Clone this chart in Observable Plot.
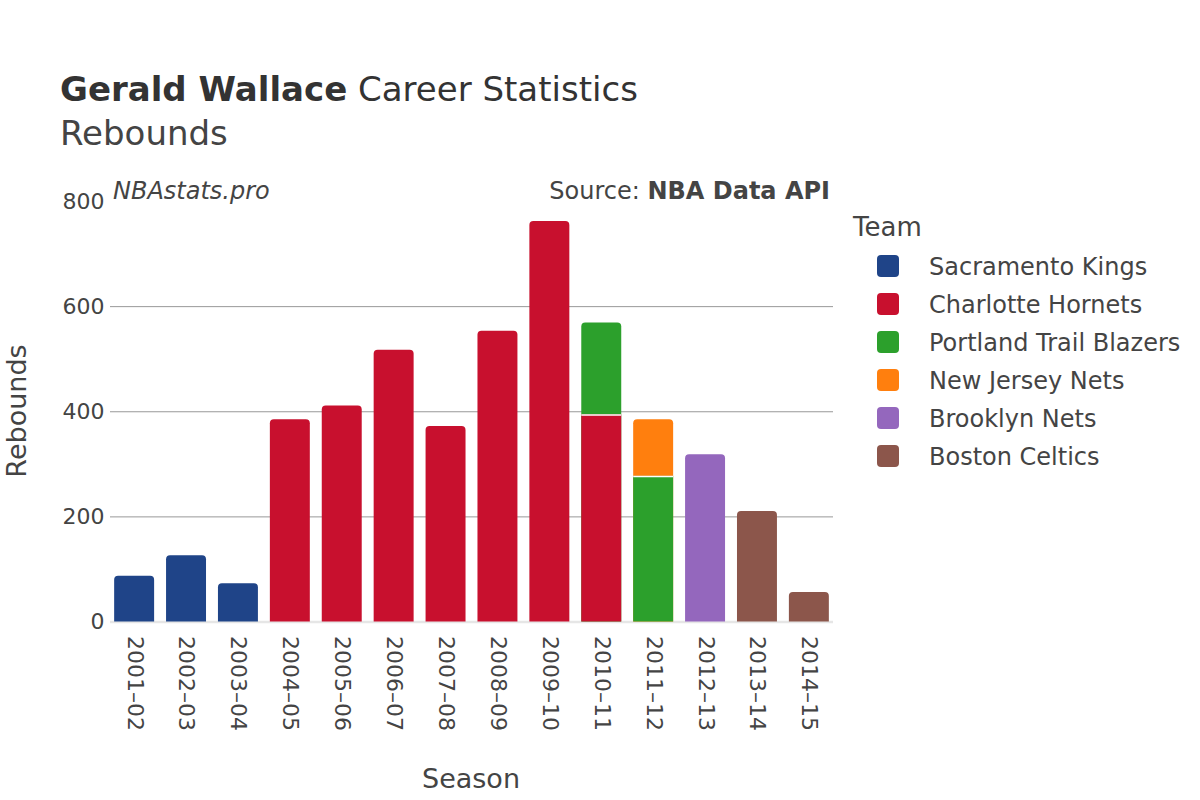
<!DOCTYPE html>
<html>
<head>
<meta charset="utf-8">
<script src="https://cdn.jsdelivr.net/npm/d3@7"></script>
<script src="https://cdn.jsdelivr.net/npm/@observablehq/plot@0.6"></script>
<style>
  html, body { margin: 0; padding: 0; background: #fff; }
  #chart { width: 1200px; height: 800px; }
  svg text { font-family: "DejaVu Sans", sans-serif; }
</style>
</head>
<body>
<div id="chart"></div>
<script>
// ---- data ----
const seasons = ["2001–02","2002–03","2003–04","2004–05","2005–06","2006–07","2007–08","2008–09","2009–10","2010–11","2011–12","2012–13","2013–14","2014–15"];
const teams = ["Sacramento Kings","Charlotte Hornets","Portland Trail Blazers","New Jersey Nets","Brooklyn Nets","Boston Celtics"];
const teamColors = ["#1f4488","#c8102e","#2ca02c","#ff7f0e","#9467bd","#8c564b"];
const rowSeason = ["2001–02","2002–03","2003–04","2004–05","2005–06","2006–07","2007–08","2008–09","2009–10","2010–11","2010–11","2011–12","2011–12","2012–13","2013–14","2014–15"];
const rowTeam = ["Sacramento Kings","Sacramento Kings","Sacramento Kings","Charlotte Hornets","Charlotte Hornets","Charlotte Hornets","Charlotte Hornets","Charlotte Hornets","Charlotte Hornets","Charlotte Hornets","Portland Trail Blazers","Portland Trail Blazers","New Jersey Nets","Brooklyn Nets","Boston Celtics","Boston Celtics"];
const rowValue = [87,126,73,385,411,517,372,553,762,394,175,277,108,318,210,56];
const yTicks = [0,200,400,600,800];
const gridTicks = [200,400,600];

// ---- stacking ----
const rows = [];
const cum = {};
rowSeason.forEach((s, i) => {
  const base = cum[s] || 0;
  rows.push({season: s, team: rowTeam[i], value: rowValue[i], y1: base, y2: base + rowValue[i]});
  cum[s] = base + rowValue[i];
});
const lastIdx = {};
rows.forEach((r, i) => { lastIdx[r.season] = i; });
rows.forEach((r, i) => { r.top = lastIdx[r.season] === i; });
const tops = rows.filter(r => r.top);
const lowers = rows.filter(r => !r.top);

const chart = Plot.plot({
  width: 1200,
  height: 800,
  marginLeft: 110,
  marginRight: 367,
  marginTop: 201,
  marginBottom: 178.5,
  style: {fontFamily: "DejaVu Sans", fontSize: "22px", color: "#444", background: "white", overflow: "visible"},
  x: {domain: seasons, paddingInner: 0.23, paddingOuter: 0.08, round: false, label: null, tickRotate: 90, tickSize: 0, tickPadding: 14},
  y: {domain: [0, 800], label: null, ticks: yTicks, tickSize: 0, tickPadding: 6},
  color: {domain: teams, range: teamColors},
  marks: [
    Plot.ruleY(gridTicks, {stroke: "#999", strokeWidth: 1}),
    Plot.ruleY([0], {stroke: "#e6e6e6", strokeWidth: 2.5}),
    // top segment: rounded, extended below the frame so only top corners show
    Plot.barY(tops, {x: "season", y1: () => -30, y2: "y2", fill: "team", rx: 4, clip: true}),
    // lower segments of stacked seasons
    Plot.barY(lowers, {x: "season", y1: "y1", y2: "y2", fill: "team"}),
    Plot.tickY(rows.filter(d => d.y1 > 0), {x: "season", y: "y1", stroke: "white", strokeWidth: 1.5})
  ]
});
document.getElementById("chart").appendChild(chart);

const svg = d3.select(chart);
const txt = (x, y, s, size, opts = {}) => {
  const t = svg.append("text").attr("x", x).attr("y", y)
    .attr("font-size", size).attr("fill", opts.fill || "#444")
    .attr("font-family", "DejaVu Sans")
    .attr("text-anchor", opts.anchor || "start");
  if (opts.style) t.attr("font-style", opts.style);
  if (opts.weight) t.attr("font-weight", opts.weight);
  if (opts.transform) t.attr("transform", opts.transform);
  if (s !== null) t.text(s);
  return t;
};

// title
const title = txt(60, 101, null, 34, {fill: "#333"});
title.append("tspan").attr("font-weight", "bold").text("Gerald Wallace");
title.append("tspan").text(" Career Statistics");
txt(60, 145, "Rebounds", 34, {fill: "#444"});

// annotations
txt(113, 199, "NBAstats.pro", 24, {style: "italic"});
const src = txt(830, 199, null, 24, {anchor: "end"});
src.append("tspan").text("Source: ");
src.append("tspan").attr("font-weight", "bold").text("NBA Data API");

// axis titles
txt(471, 788, "Season", 27, {anchor: "middle"});
txt(0, 0, "Rebounds", 27, {anchor: "middle", transform: "translate(26,411) rotate(-90)"});

// legend from color scale
const cs = chart.scale("color");
txt(853, 236, "Team", 26);
cs.domain.forEach((name, i) => {
  const cy = 266 + i * 38;
  svg.append("rect").attr("x", 877).attr("y", cy - 11).attr("width", 22).attr("height", 22)
    .attr("rx", 4).attr("fill", cs.range[i]);
  txt(929, cy + 8.5, name, 24);
});
</script>
</body>
</html>
